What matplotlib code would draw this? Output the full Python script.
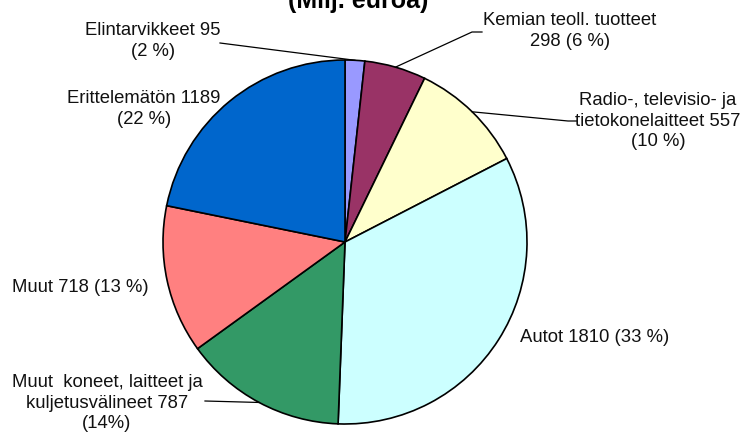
import matplotlib.pyplot as plt
from matplotlib.lines import Line2D

plt.rcParams['font.family'] = ['Liberation Sans', 'DejaVu Sans']

categories = ['Elintarvikkeet', 'Kemian teoll. tuotteet',
              'Radio-, televisio- ja tietokonelaitteet', 'Autot',
              'Muut koneet, laitteet ja kuljetusvälineet', 'Muut',
              'Erittelemätön']
values = [95, 298, 557, 1810, 787, 718, 1189]
labels = ['Elintarvikkeet 95\n(2 %)',
          'Kemian teoll. tuotteet\n298 (6 %)',
          'Radio-, televisio- ja\ntietokonelaitteet 557\n(10 %)',
          'Autot 1810 (33 %)',
          'Muut  koneet, laitteet ja\nkuljetusvälineet 787\n(14%)',
          'Muut 718 (13 %)',
          'Erittelemätön 1189\n(22 %)']
colors = ['#9999FF', '#993366', '#FFFFCC', '#CCFFFF', '#339966', '#FF8080', '#0066CC']
title = '(Milj. euroa)'

W, H = 742, 437
fig = plt.figure(figsize=(W / 100, H / 100), dpi=100)
ax = fig.add_axes([0, 0, 1, 1])

# work in pixel units, y measured from the bottom
cx, cy, r = 345, H - 242, 182
wedges, _ = ax.pie(values, colors=colors, startangle=90, counterclock=False,
                   center=(cx, cy), radius=r,
                   wedgeprops=dict(edgecolor='black', linewidth=1.2))
ax.set_xlim(0, W)
ax.set_ylim(0, H)
ax.set_aspect('equal')
ax.axis('off')

# label placement (pixels from top-left): x, y, alignment
label_pos = [
    (153, 41, 'center'),
    (570, 31, 'center'),
    (658, 121, 'center'),
    (520, 337, 'left'),
    (107, 403, 'center'),
    (80, 287, 'center'),
    (144, 109, 'center'),
]
for lab, (x, y, ha) in zip(labels, label_pos):
    ax.text(x, H - y, lab, ha=ha, va='center', fontsize=13.3,
            color='#111111', linespacing=1.3, multialignment='center')

# leader lines: start points near the labels, end at the wedge rim
import numpy as np
leaders = {
    0: [(220, 43)],
    1: [(482, 32), (472, 32)],
    2: [(577, 121), (568, 121)],
    4: [(205, 401)],
}
for i, pts in leaders.items():
    w = wedges[i]
    mid = np.deg2rad((w.theta1 + w.theta2) / 2)
    ex, ey = cx + r * np.cos(mid), cy + r * np.sin(mid)
    xs = [p[0] for p in pts] + [ex]
    ys = [H - p[1] for p in pts] + [ey]
    ax.add_line(Line2D(xs, ys, color='black', linewidth=0.9))

ax.text(358, H - 8, title, ha='center', va='baseline', fontsize=18,
        fontweight='bold', color='black')

fig.savefig('out.png', dpi=100)
